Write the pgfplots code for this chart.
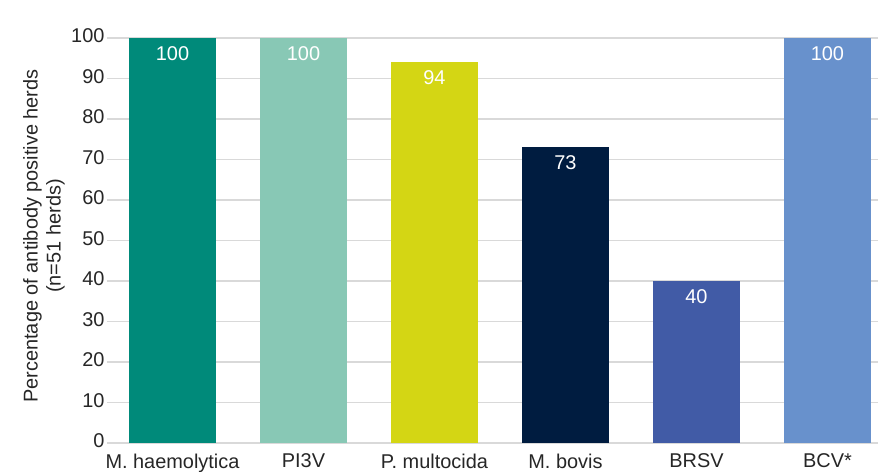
\documentclass[border=0pt]{standalone}
\usepackage{pgfplots}
\pgfplotsset{compat=1.18}
\usepackage{fontspec}
\setmainfont{Liberation Sans}
\definecolor{c1}{HTML}{008A7A}
\definecolor{c2}{HTML}{88C8B5}
\definecolor{c3}{HTML}{D4D614}
\definecolor{c4}{HTML}{001C40}
\definecolor{c5}{HTML}{415BA6}
\definecolor{c6}{HTML}{6891CC}
\definecolor{gridc}{HTML}{D9D9D9}
\begin{document}
\begin{tikzpicture}[x=1bp,y=1bp]
\useasboundingbox (0,0) rectangle (878,472);
\begin{axis}[
  at={(107bp,29bp)}, anchor=south west,
  scale only axis, width=771bp, height=405bp,
  xmin=-0.5, xmax=5.386, ymin=0, ymax=100,
  ytick={0,10,...,100},
  xtick={0,1,2,3,4,5},
  xticklabels={M. haemolytica, PI3V, P. multocida, M. bovis, BRSV, BCV*},
  axis line style={draw=none},
  major tick length=0pt,
  ymajorgrids, grid style={gridc, line width=1.4bp},
  ybar, bar width=0.67, bar shift=0pt,
  /pgf/number format/assume math mode=true,
  tick label style={font=\fontsize{20}{23}\selectfont, text=black!85},
  xticklabel style={yshift=-7.5bp},
  yticklabel style={yshift=2bp, xshift=1bp},
  nodes near coords,
  every node near coord/.append style={font=\fontsize{20}{23}\selectfont, text=white, anchor=north, yshift=-5bp},
  clip=false,
]
\addplot[fill=c1, draw=none] coordinates {(0,100)};
\addplot[fill=c2, draw=none] coordinates {(1,100)};
\addplot[fill=c3, draw=none] coordinates {(2,94)};
\addplot[fill=c4, draw=none] coordinates {(3,73)};
\addplot[fill=c5, draw=none] coordinates {(4,40)};
\addplot[fill=c6, draw=none] coordinates {(5,100)};
\end{axis}
\node[rotate=90, align=center, font=\fontsize{20}{23}\selectfont, text=black!85] at (44,236) {Percentage of antibody positive herds\\(n=51 herds)};
\end{tikzpicture}
\end{document}
